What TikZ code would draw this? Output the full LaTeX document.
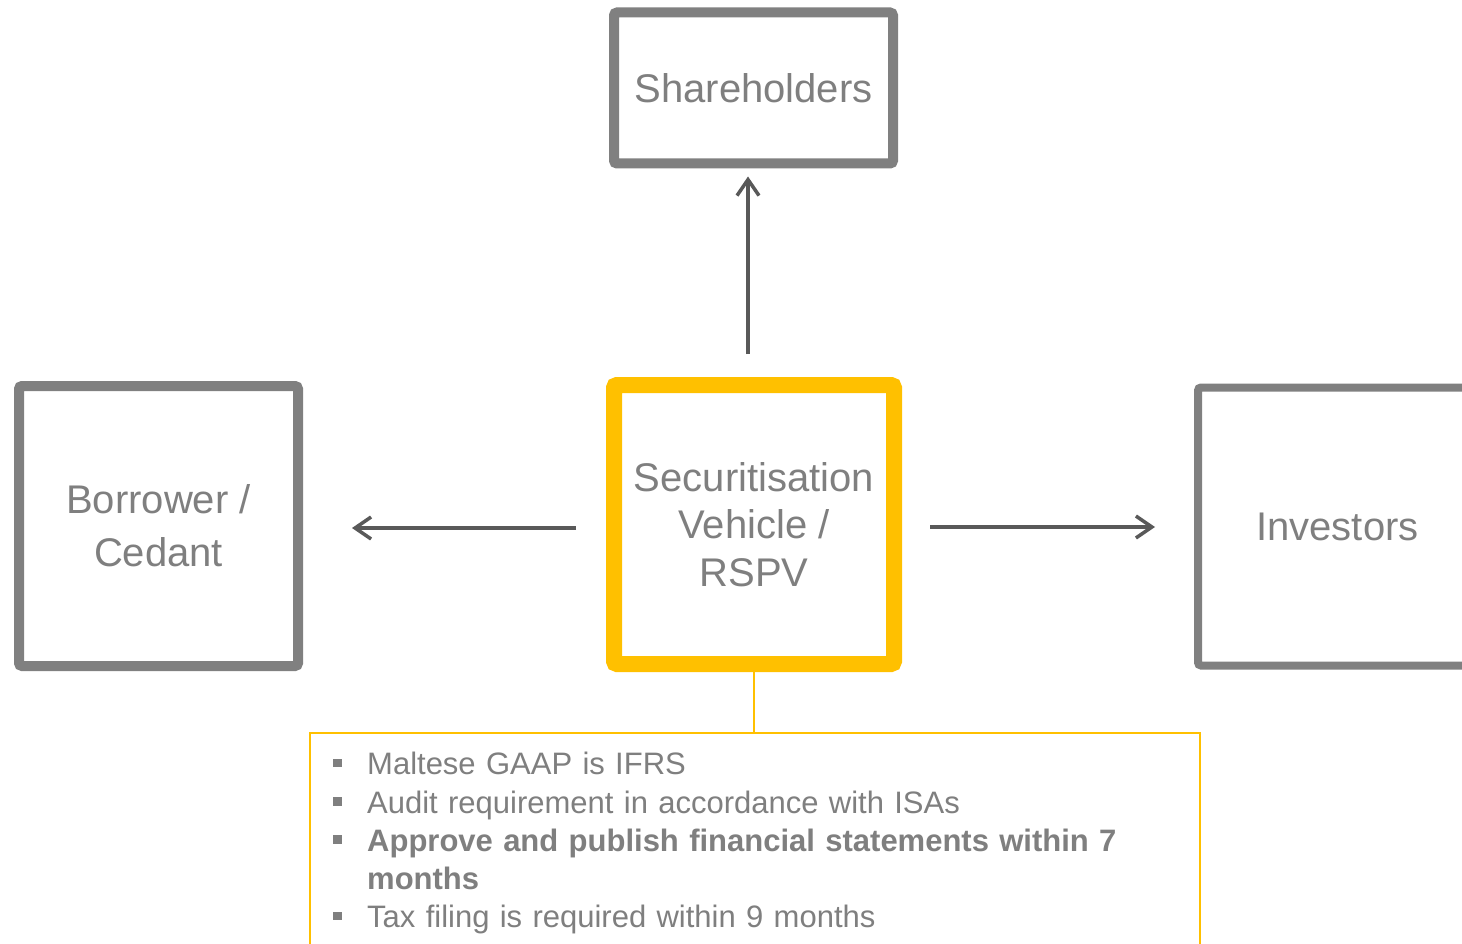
\documentclass[tikz,border=0pt]{standalone}
\usepackage{fontspec}
\setmainfont{Liberation Sans}
\usetikzlibrary{arrows.meta}
\definecolor{boxgray}{HTML}{808080}
\definecolor{txtgray}{HTML}{7F7F7F}
\definecolor{arrgray}{HTML}{595959}
\definecolor{gold}{HTML}{FFC000}
\newcommand\bitem{\par\noindent\hangindent=34pt\hangafter=1\makebox[34pt][l]{\rule[7.5pt]{8.5pt}{8.5pt}}\strut}
\begin{document}
\begin{tikzpicture}[x=1pt,y=-1pt,
  box/.style={draw=boxgray, rectangle, rounded corners=3pt, outer sep=0pt, inner sep=0pt,
    align=center, text=txtgray, font=\fontsize{40}{48}\selectfont},
  arr/.style={draw=arrgray, line width=3.5pt, -{Straight Barb[length=16pt,width=22pt]}},
  note/.style={draw=gold, line width=2pt, rectangle, outer sep=0pt, inner sep=0pt},
]
\clip (0,0) rectangle (1462,944);
\fill[white] (0,0) rectangle (1462,944);

\node[box, line width=10pt, minimum width=279pt, minimum height=151pt] (sh) at (753.5,88) {Shareholders};
\node[box, draw=gold, line width=16pt, minimum width=280pt, minimum height=279pt,
  font=\fontsize{40}{47.5}\selectfont] (sv) at (754,524.5) {Securitisation\\Vehicle /\\RSPV};
\node[box, line width=10pt, minimum width=279pt, minimum height=280pt,
  font=\fontsize{40}{53}\selectfont] (bc) at (158.5,526) {Borrower /\\Cedant};
\node[box, line width=8pt, minimum width=279pt, minimum height=278pt] (inv) at (1337.5,526.5) {Investors};

\node[note, minimum width=890pt, minimum height=240pt, anchor=north west] (nb) at (310,733) {};
\draw[gold, line width=2pt] (sv.south) -- (sv.south |- nb.north);

\node[anchor=north west, inner sep=0pt, text width=860pt, align=left, text=txtgray,
  font=\fontsize{31}{38.2}\selectfont] (nt) at (333,736.5) {%
\bitem Maltese GAAP is IFRS
\bitem Audit requirement in accordance with ISAs
\bitem \textbf{Approve and publish financial statements within 7\newline months}
\bitem Tax filing is required within 9 months};

\draw[arr, shorten <=31pt, shorten >=13pt] ([xshift=-6pt]sv.north) -- ([xshift=-5.5pt]sh.south);
\draw[arr, shorten <=38pt, shorten >=54pt] ([yshift=-3.5pt]sv.west) -- ([yshift=-2pt]bc.east);
\draw[arr, shorten <=36pt, shorten >=43pt] ([yshift=-2.5pt]sv.east) -- ([yshift=-0.5pt]inv.west);
\end{tikzpicture}
\end{document}
